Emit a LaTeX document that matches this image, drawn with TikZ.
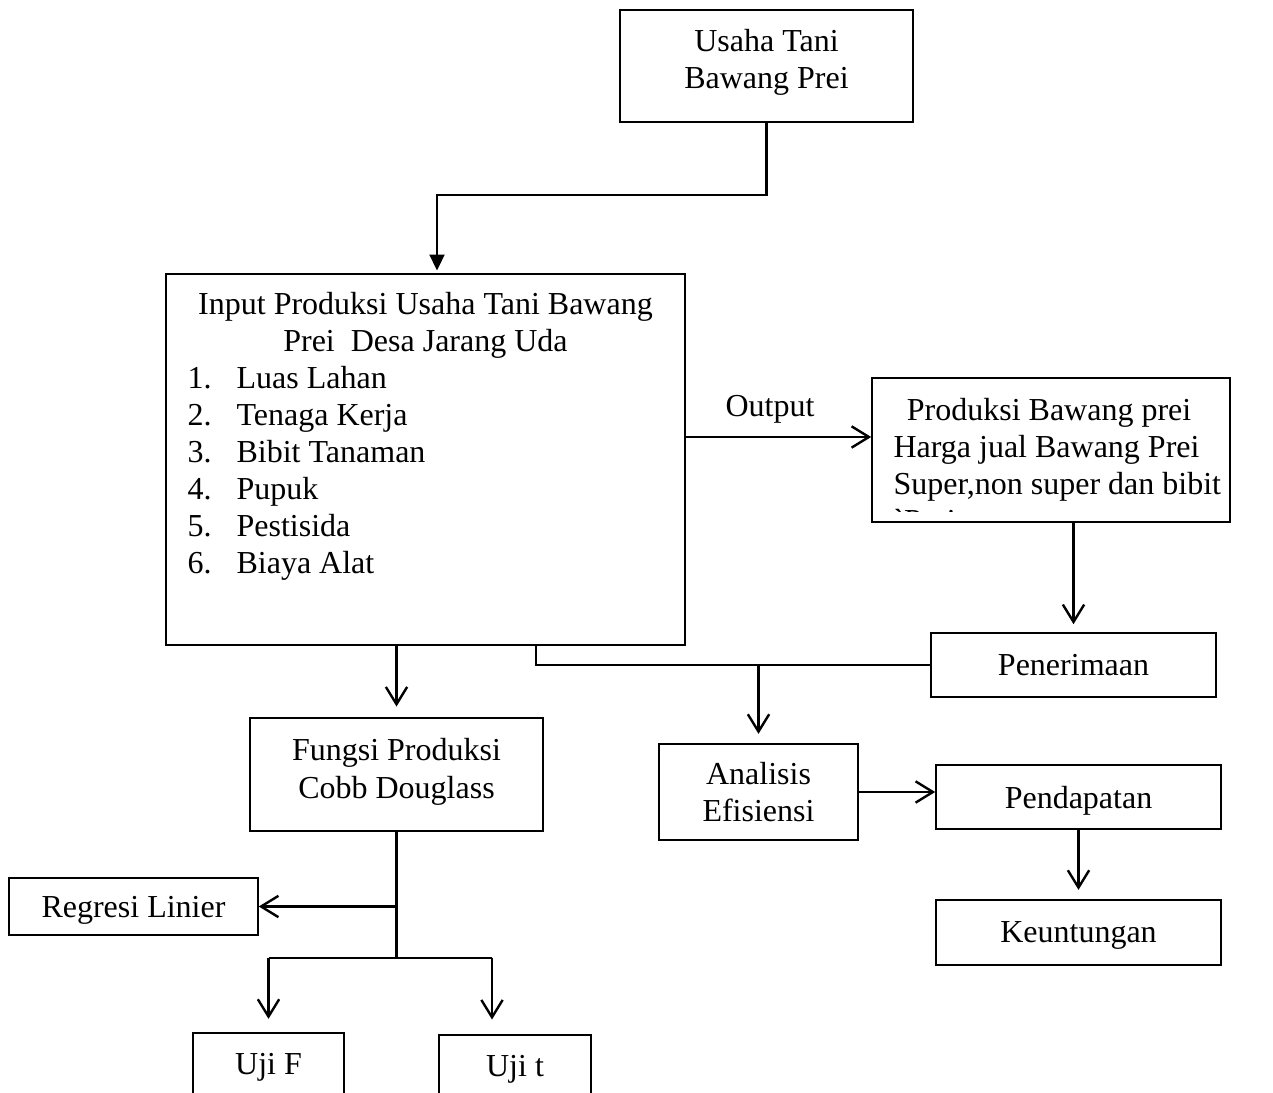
\documentclass[tikz,border=0pt]{standalone}
\usepackage{fontspec}
\setmainfont{Liberation Serif}
\usetikzlibrary{arrows.meta}
\begin{document}
\begin{tikzpicture}[x=0.375pt, y=-0.375pt,
    every node/.style={font=\fontsize{12}{13.9}\selectfont},
    kotak/.style={draw, line width=0.6pt, inner sep=0pt, align=center},
    satubaris/.style={text depth=0pt},
    ukuran/.style 2 args={minimum width=#1*0.375pt, minimum height=#2*0.375pt},
    garis/.style={line width=0.9pt},
    panah/.style={line width=0.9pt, -{Straight Barb[length=6.5pt, width=8pt, line width=0.9pt]}},
    panahisi/.style={line width=0.9pt, -{Triangle[length=6pt, width=5.6pt]}}]
    \useasboundingbox (0,0) rectangle (1273,1093);

    % Kotak atas
    \node[kotak, ukuran={293}{112}, text depth=5.6pt] (usaha) at (766.5,66) {Usaha Tani\\Bawang Prei};

    % Input produksi
    \node[kotak, ukuran={519}{371}] (input) at (425.5,459.5) {};
    \node[align=center] (inputjudul) at (425.5,325) {Input Produksi Usaha Tani Bawang\\Prei\ \ Desa Jarang Uda};
    \node[anchor=west, inner sep=0pt] (inputdaftar) at (187,473.5) {\begin{tabular}{@{}p{18.4pt}@{}l@{}}
        1. & Luas Lahan\\
        2. & Tenaga Kerja\\
        3. & Bibit Tanaman\\
        4. & Pupuk\\
        5. & Pestisida\\
        6. & Biaya Alat
    \end{tabular}};

    % Output (teks terpotong oleh kotak)
    \node[kotak, ukuran={358}{144}] (produksi) at (1051,450) {};
    \coordinate (batasteks) at (0,512);
    \begin{scope}
        \clip (produksi.north west) rectangle (produksi.east |- batasteks);
        \node[anchor=west, inner sep=0pt, align=left] (produksiteks) at (893,465) {\hspace*{5pt}Produksi Bawang prei\\Harga jual Bawang Prei\\Super,non super dan bibit\\\textasciigrave Prei};
    \end{scope}
    \node (output) at (770,409) {Output};

    % Kotak kanan
    \node[kotak, satubaris, ukuran={285}{64}] (penerimaan) at (1073.5,665) {Penerimaan};
    \node[kotak, ukuran={199}{96}] (analisis) at (758.5,792) {Analisis\\Efisiensi};
    \node[kotak, satubaris, ukuran={285}{64}] (pendapatan) at (1078.5,797) {Pendapatan};
    \node[kotak, satubaris, ukuran={285}{65}] (keuntungan) at (1078.5,932.5) {Keuntungan};

    % Kotak kiri
    \node[kotak, ukuran={293}{113}, text depth=4.6pt] (fungsi) at (396.5,774.5) {Fungsi Produksi\\Cobb Douglass};
    \node[kotak, satubaris, ukuran={249}{57}] (regresi) at (133.5,906.5) {Regresi Linier};
    \node[kotak, satubaris, ukuran={151}{62}] (ujif) at (268.5,1064) {Uji F};
    \node[kotak, satubaris, ukuran={152}{62}] (ujit) at (515,1066) {Uji t};

    % Garis dan panah
    \coordinate (belok) at (437,195);
    \draw[panahisi, shorten >=1pt] (usaha.south) |- (belok) -- (belok |- input.north);

    \coordinate (barisoutput) at (0,437);
    \draw[panah] (input.east |- barisoutput) -- (produksi.west |- barisoutput);

    \draw[panah, shorten >=3pt] (produksi.south -| penerimaan.north) -- (penerimaan.north);

    \coordinate (cabanginput) at (536,645);
    \draw[garis] (penerimaan.west) -| (cabanginput);
    \draw[panah, shorten >=3.5pt] (analisis.north |- penerimaan.west) -- (analisis.north);
    \draw[panah] (analisis.east) -- (pendapatan.west |- analisis.east);
    \draw[panah, shorten >=3.5pt] (pendapatan.south) -- (keuntungan.north);

    \draw[panah, shorten >=4pt] (fungsi.north |- input.south) -- (fungsi.north);
    \coordinate (cabanguji) at (398,958);
    \coordinate (cabangt) at (492,958);
    \draw[garis] (fungsi.south) -- (fungsi.south |- cabanguji);
    \draw[panah] (fungsi.south |- regresi.east) -- (regresi.east);
    \draw[garis] (ujif.north |- cabanguji) -- (cabangt);
    \draw[panah, shorten >=5pt] (ujif.north |- cabanguji) -- (ujif.north);
    \draw[panah, shorten >=5.5pt] (cabangt) -- (cabangt |- ujit.north);
\end{tikzpicture}
\end{document}
